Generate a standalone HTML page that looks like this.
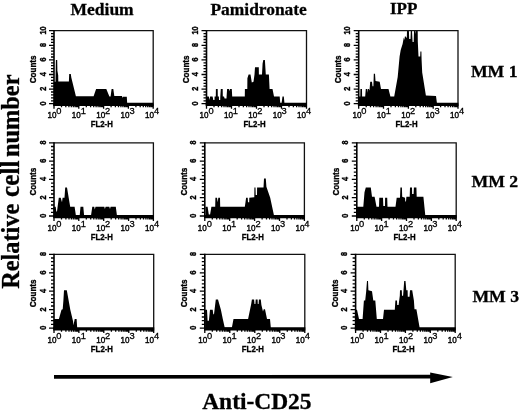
<!DOCTYPE html>
<html><head><meta charset="utf-8"><title>Figure</title>
<style>html,body{margin:0;padding:0;background:#fff}svg{display:block;filter:blur(0.3px)}text{fill:#000}.s{font-family:"Liberation Serif",serif;font-weight:bold;stroke:#000;stroke-width:0.3px}.a{font-family:"Liberation Sans",sans-serif}.b{font-family:"Liberation Sans",sans-serif;font-weight:bold}</style></head><body>
<svg width="520" height="412" viewBox="0 0 520 412">
<rect width="520" height="412" fill="#fff"/>
<text class="s" x="70.5" y="15" font-size="17.5">Medium</text>
<text class="s" x="210.5" y="15" font-size="17.4">Pamidronate</text>
<text class="s" x="390" y="13.8" font-size="17">IPP</text>
<text class="s" x="470.9" y="77" font-size="17.7">MM 1</text>
<text class="s" x="471.5" y="186.5" font-size="17.7">MM 2</text>
<text class="s" x="472.4" y="302" font-size="17.7">MM 3</text>
<text class="s" transform="translate(18.6 288.8) rotate(-90) scale(1 1.05)" font-size="24.3">Relative <tspan x="91.9" font-size="25.3">cell</tspan> <tspan x="131.9">number</tspan></text>
<text class="s" x="202.2" y="408.7" font-size="23.45">Anti-CD25</text>
<path d="M54 376.9 L431 376.6" stroke="#000" stroke-width="3.6" fill="none"/>
<path d="M430.2 372.4 L452.8 376.9 L430.2 383.2 Z" fill="#000"/>
<g>
<path d="M54.0 104.2 L54.0 81.8 L55.5 81.8 L55.7 70.1 L55.9 59.9 L57.2 59.9 L57.4 70.8 L58.2 75.2 L58.3 81.4 L68.9 81.4 L69.2 74.1 L70.8 74.1 L71.3 77.4 L75.9 96.2 L93.6 96.2 L96.1 89.1 L106.3 89.1 L109.4 96.4 L110.6 96.4 L111.6 89.1 L113.3 89.1 L114.3 96.0 L122.0 96.0 L122.3 97.9 L122.8 96.8 L126.8 96.8 L127.2 103.7 L127.2 104.2 Z" fill="#000"/>
<path d="M54.0 30.7 H153.2 V103.7" stroke="#111" stroke-width="1.3" fill="none"/>
<path d="M54.0 30.2 V104.7" stroke="#000" stroke-width="1.6" fill="none"/>
<path d="M53.2 104.4 H153.7" stroke="#000" stroke-width="3.2" fill="none"/>
<path d="M49.0 103.7H54.0 M51.0 100.8H54.0 M51.0 97.9H54.0 M51.0 94.9H54.0 M51.0 92.0H54.0 M49.0 89.1H54.0 M51.0 86.2H54.0 M51.0 83.3H54.0 M51.0 80.3H54.0 M51.0 77.4H54.0 M49.0 74.5H54.0 M51.0 71.6H54.0 M51.0 68.7H54.0 M51.0 65.7H54.0 M51.0 62.8H54.0 M49.0 59.9H54.0 M51.0 57.0H54.0 M51.0 54.1H54.0 M51.0 51.1H54.0 M51.0 48.2H54.0 M49.0 45.3H54.0 M51.0 42.4H54.0 M51.0 39.5H54.0 M51.0 36.5H54.0 M51.0 33.6H54.0 M49.0 30.7H54.0" stroke="#000" stroke-width="1.3" fill="none"/>
<path d="M54.0 103.7v5.0 M61.5 103.7v3.6 M65.8 103.7v3.6 M68.9 103.7v3.6 M71.3 103.7v3.6 M73.3 103.7v3.6 M75.0 103.7v3.6 M76.4 103.7v3.6 M77.7 103.7v3.6 M78.8 103.7v5.0 M86.3 103.7v3.6 M90.6 103.7v3.6 M93.7 103.7v3.6 M96.1 103.7v3.6 M98.1 103.7v3.6 M99.8 103.7v3.6 M101.2 103.7v3.6 M102.5 103.7v3.6 M103.6 103.7v5.0 M111.1 103.7v3.6 M115.4 103.7v3.6 M118.5 103.7v3.6 M120.9 103.7v3.6 M122.9 103.7v3.6 M124.6 103.7v3.6 M126.0 103.7v3.6 M127.3 103.7v3.6 M128.4 103.7v5.0 M135.9 103.7v3.6 M140.2 103.7v3.6 M143.3 103.7v3.6 M145.7 103.7v3.6 M147.7 103.7v3.6 M149.4 103.7v3.6 M150.8 103.7v3.6 M152.1 103.7v3.6 M153.2 103.7v5.0" stroke="#000" stroke-width="1.3" fill="none"/>
<text class="b" transform="translate(45.6 103.4) rotate(-90) scale(0.78 1)" text-anchor="middle" font-size="9.3" stroke="#000" stroke-width="0.4">0</text>
<text class="b" transform="translate(45.6 88.8) rotate(-90) scale(0.78 1)" text-anchor="middle" font-size="9.3" stroke="#000" stroke-width="0.4">2</text>
<text class="b" transform="translate(45.6 74.2) rotate(-90) scale(0.78 1)" text-anchor="middle" font-size="9.3" stroke="#000" stroke-width="0.4">4</text>
<text class="b" transform="translate(45.6 59.6) rotate(-90) scale(0.78 1)" text-anchor="middle" font-size="9.3" stroke="#000" stroke-width="0.4">6</text>
<text class="b" transform="translate(45.6 45.0) rotate(-90) scale(0.78 1)" text-anchor="middle" font-size="9.3" stroke="#000" stroke-width="0.4">8</text>
<text class="b" transform="translate(45.6 30.4) rotate(-90) scale(0.78 1)" text-anchor="middle" font-size="9.3" stroke="#000" stroke-width="0.4">10</text>
<text class="b" transform="translate(36.3 69.4) rotate(-90) scale(0.84 1)" text-anchor="middle" font-size="9.6" stroke="#000" stroke-width="0.35">Counts</text>
<text class="a" transform="translate(47.4 118.3) scale(0.9 1)" font-size="9" stroke="#000" stroke-width="0.4">10</text>
<text class="a" transform="translate(56.3 114.2)" font-size="9.3" stroke="#000" stroke-width="0.3">0</text>
<text class="a" transform="translate(71.8 118.3) scale(0.9 1)" font-size="9" stroke="#000" stroke-width="0.4">10</text>
<text class="a" transform="translate(80.7 114.2)" font-size="9.3" stroke="#000" stroke-width="0.3">1</text>
<text class="a" transform="translate(96.2 118.3) scale(0.9 1)" font-size="9" stroke="#000" stroke-width="0.4">10</text>
<text class="a" transform="translate(105.1 114.2)" font-size="9.3" stroke="#000" stroke-width="0.3">2</text>
<text class="a" transform="translate(120.6 118.3) scale(0.9 1)" font-size="9" stroke="#000" stroke-width="0.4">10</text>
<text class="a" transform="translate(129.5 114.2)" font-size="9.3" stroke="#000" stroke-width="0.3">3</text>
<text class="a" transform="translate(145.0 118.3) scale(0.9 1)" font-size="9" stroke="#000" stroke-width="0.4">10</text>
<text class="a" transform="translate(153.9 114.2)" font-size="9.3" stroke="#000" stroke-width="0.3">4</text>
<text class="b" transform="translate(101.7 127.2) scale(0.93 1)" text-anchor="middle" font-size="8.4" stroke="#000" stroke-width="0.3">FL2-H</text>
</g>
<g>
<path d="M206.3 104.2 L206.3 96.4 L208.8 96.4 L209.5 100.0 L210.1 96.4 L212.6 96.4 L213.3 100.0 L214.5 100.0 L214.6 96.4 L215.8 96.4 L215.9 89.1 L217.7 89.1 L217.8 96.4 L218.9 96.4 L219.0 100.0 L220.2 100.0 L220.3 96.4 L220.8 89.1 L222.7 89.1 L222.8 96.4 L224.0 96.4 L224.6 98.6 L226.5 98.6 L226.6 96.4 L227.1 89.1 L229.0 89.1 L229.5 91.3 L230.0 89.1 L231.8 89.1 L232.2 96.4 L244.8 96.4 L244.9 89.1 L247.3 89.1 L247.4 78.2 L248.6 74.5 L250.5 74.5 L251.8 82.5 L253.5 81.8 L254.5 74.5 L255.0 67.2 L258.8 67.2 L258.9 74.5 L262.0 74.5 L262.6 63.6 L263.3 59.9 L264.9 59.9 L265.8 74.5 L268.9 74.5 L269.6 89.1 L272.5 89.1 L274.0 96.4 L279.7 96.4 L280.3 103.7 L281.5 103.7 L282.5 96.4 L283.8 96.4 L284.5 103.7 L284.5 104.2 Z" fill="#000"/>
<path d="M206.5 30.7 H306.5 V103.7" stroke="#111" stroke-width="1.3" fill="none"/>
<path d="M206.5 30.2 V104.7" stroke="#000" stroke-width="1.6" fill="none"/>
<path d="M205.7 104.4 H307.0" stroke="#000" stroke-width="3.2" fill="none"/>
<path d="M201.5 103.7H206.5 M203.5 100.8H206.5 M203.5 97.9H206.5 M203.5 94.9H206.5 M203.5 92.0H206.5 M201.5 89.1H206.5 M203.5 86.2H206.5 M203.5 83.3H206.5 M203.5 80.3H206.5 M203.5 77.4H206.5 M201.5 74.5H206.5 M203.5 71.6H206.5 M203.5 68.7H206.5 M203.5 65.7H206.5 M203.5 62.8H206.5 M201.5 59.9H206.5 M203.5 57.0H206.5 M203.5 54.1H206.5 M203.5 51.1H206.5 M203.5 48.2H206.5 M201.5 45.3H206.5 M203.5 42.4H206.5 M203.5 39.5H206.5 M203.5 36.5H206.5 M203.5 33.6H206.5 M201.5 30.7H206.5" stroke="#000" stroke-width="1.3" fill="none"/>
<path d="M206.5 103.7v5.0 M214.0 103.7v3.6 M218.4 103.7v3.6 M221.6 103.7v3.6 M224.0 103.7v3.6 M226.0 103.7v3.6 M227.6 103.7v3.6 M229.1 103.7v3.6 M230.4 103.7v3.6 M231.5 103.7v5.0 M239.0 103.7v3.6 M243.4 103.7v3.6 M246.6 103.7v3.6 M249.0 103.7v3.6 M251.0 103.7v3.6 M252.6 103.7v3.6 M254.1 103.7v3.6 M255.4 103.7v3.6 M256.5 103.7v5.0 M264.0 103.7v3.6 M268.4 103.7v3.6 M271.6 103.7v3.6 M274.0 103.7v3.6 M276.0 103.7v3.6 M277.6 103.7v3.6 M279.1 103.7v3.6 M280.4 103.7v3.6 M281.5 103.7v5.0 M289.0 103.7v3.6 M293.4 103.7v3.6 M296.6 103.7v3.6 M299.0 103.7v3.6 M301.0 103.7v3.6 M302.6 103.7v3.6 M304.1 103.7v3.6 M305.4 103.7v3.6 M306.5 103.7v5.0" stroke="#000" stroke-width="1.3" fill="none"/>
<text class="b" transform="translate(198.1 103.4) rotate(-90) scale(0.78 1)" text-anchor="middle" font-size="9.3" stroke="#000" stroke-width="0.4">0</text>
<text class="b" transform="translate(198.1 88.8) rotate(-90) scale(0.78 1)" text-anchor="middle" font-size="9.3" stroke="#000" stroke-width="0.4">2</text>
<text class="b" transform="translate(198.1 74.2) rotate(-90) scale(0.78 1)" text-anchor="middle" font-size="9.3" stroke="#000" stroke-width="0.4">4</text>
<text class="b" transform="translate(198.1 59.6) rotate(-90) scale(0.78 1)" text-anchor="middle" font-size="9.3" stroke="#000" stroke-width="0.4">6</text>
<text class="b" transform="translate(198.1 45.0) rotate(-90) scale(0.78 1)" text-anchor="middle" font-size="9.3" stroke="#000" stroke-width="0.4">8</text>
<text class="b" transform="translate(198.1 30.4) rotate(-90) scale(0.78 1)" text-anchor="middle" font-size="9.3" stroke="#000" stroke-width="0.4">10</text>
<text class="b" transform="translate(188.8 69.4) rotate(-90) scale(0.84 1)" text-anchor="middle" font-size="9.6" stroke="#000" stroke-width="0.35">Counts</text>
<text class="a" transform="translate(199.5 118.3) scale(0.9 1)" font-size="9" stroke="#000" stroke-width="0.4">10</text>
<text class="a" transform="translate(208.4 114.2)" font-size="9.3" stroke="#000" stroke-width="0.3">0</text>
<text class="a" transform="translate(223.9 118.3) scale(0.9 1)" font-size="9" stroke="#000" stroke-width="0.4">10</text>
<text class="a" transform="translate(232.8 114.2)" font-size="9.3" stroke="#000" stroke-width="0.3">1</text>
<text class="a" transform="translate(248.3 118.3) scale(0.9 1)" font-size="9" stroke="#000" stroke-width="0.4">10</text>
<text class="a" transform="translate(257.2 114.2)" font-size="9.3" stroke="#000" stroke-width="0.3">2</text>
<text class="a" transform="translate(272.7 118.3) scale(0.9 1)" font-size="9" stroke="#000" stroke-width="0.4">10</text>
<text class="a" transform="translate(281.6 114.2)" font-size="9.3" stroke="#000" stroke-width="0.3">3</text>
<text class="a" transform="translate(297.1 118.3) scale(0.9 1)" font-size="9" stroke="#000" stroke-width="0.4">10</text>
<text class="a" transform="translate(306.0 114.2)" font-size="9.3" stroke="#000" stroke-width="0.3">4</text>
<text class="b" transform="translate(254.6 127.2) scale(0.93 1)" text-anchor="middle" font-size="8.4" stroke="#000" stroke-width="0.3">FL2-H</text>
</g>
<g>
<path d="M358.8 104.2 L358.8 96.4 L360.3 96.4 L360.4 89.1 L362.0 89.1 L362.1 96.4 L365.2 96.4 L365.8 89.1 L367.0 89.1 L367.2 92.8 L367.7 89.1 L368.9 89.1 L369.5 90.6 L370.2 81.8 L372.0 81.8 L372.5 86.2 L373.4 86.2 L373.8 73.8 L375.0 73.8 L375.5 81.1 L379.7 81.8 L381.0 89.1 L388.5 89.1 L390.4 96.4 L394.2 96.4 L397.7 77.0 L399.6 56.6 L400.7 50.0 L402.6 44.0 L403.8 37.6 L404.3 40.0 L405.0 36.0 L406.8 38.0 L407.0 30.8 L408.9 30.8 L409.2 39.0 L410.5 39.0 L410.8 30.8 L412.0 30.8 L412.6 42.0 L413.7 42.0 L414.0 30.8 L415.2 30.8 L415.5 34.0 L415.8 30.8 L417.7 30.8 L417.8 41.4 L418.5 56.6 L420.2 56.6 L420.4 51.5 L421.4 51.5 L421.6 60.0 L422.2 72.6 L425.9 95.6 L436.0 96.0 L437.0 103.7 L437.0 104.2 Z" fill="#000"/>
<path d="M358.7 30.7 H458.0 V103.7" stroke="#111" stroke-width="1.3" fill="none"/>
<path d="M358.7 30.2 V104.7" stroke="#000" stroke-width="1.6" fill="none"/>
<path d="M357.9 104.4 H458.5" stroke="#000" stroke-width="3.2" fill="none"/>
<path d="M353.7 103.7H358.7 M355.7 100.8H358.7 M355.7 97.9H358.7 M355.7 94.9H358.7 M355.7 92.0H358.7 M353.7 89.1H358.7 M355.7 86.2H358.7 M355.7 83.3H358.7 M355.7 80.3H358.7 M355.7 77.4H358.7 M353.7 74.5H358.7 M355.7 71.6H358.7 M355.7 68.7H358.7 M355.7 65.7H358.7 M355.7 62.8H358.7 M353.7 59.9H358.7 M355.7 57.0H358.7 M355.7 54.1H358.7 M355.7 51.1H358.7 M355.7 48.2H358.7 M353.7 45.3H358.7 M355.7 42.4H358.7 M355.7 39.5H358.7 M355.7 36.5H358.7 M355.7 33.6H358.7 M353.7 30.7H358.7" stroke="#000" stroke-width="1.3" fill="none"/>
<path d="M358.7 103.7v5.0 M366.2 103.7v3.6 M370.5 103.7v3.6 M373.6 103.7v3.6 M376.1 103.7v3.6 M378.0 103.7v3.6 M379.7 103.7v3.6 M381.1 103.7v3.6 M382.4 103.7v3.6 M383.5 103.7v5.0 M391.0 103.7v3.6 M395.4 103.7v3.6 M398.5 103.7v3.6 M400.9 103.7v3.6 M402.8 103.7v3.6 M404.5 103.7v3.6 M405.9 103.7v3.6 M407.2 103.7v3.6 M408.4 103.7v5.0 M415.8 103.7v3.6 M420.2 103.7v3.6 M423.3 103.7v3.6 M425.7 103.7v3.6 M427.7 103.7v3.6 M429.3 103.7v3.6 M430.8 103.7v3.6 M432.0 103.7v3.6 M433.2 103.7v5.0 M440.6 103.7v3.6 M445.0 103.7v3.6 M448.1 103.7v3.6 M450.5 103.7v3.6 M452.5 103.7v3.6 M454.2 103.7v3.6 M455.6 103.7v3.6 M456.9 103.7v3.6 M458.0 103.7v5.0" stroke="#000" stroke-width="1.3" fill="none"/>
<text class="b" transform="translate(350.3 103.4) rotate(-90) scale(0.78 1)" text-anchor="middle" font-size="9.3" stroke="#000" stroke-width="0.4">0</text>
<text class="b" transform="translate(350.3 88.8) rotate(-90) scale(0.78 1)" text-anchor="middle" font-size="9.3" stroke="#000" stroke-width="0.4">2</text>
<text class="b" transform="translate(350.3 74.2) rotate(-90) scale(0.78 1)" text-anchor="middle" font-size="9.3" stroke="#000" stroke-width="0.4">4</text>
<text class="b" transform="translate(350.3 59.6) rotate(-90) scale(0.78 1)" text-anchor="middle" font-size="9.3" stroke="#000" stroke-width="0.4">6</text>
<text class="b" transform="translate(350.3 45.0) rotate(-90) scale(0.78 1)" text-anchor="middle" font-size="9.3" stroke="#000" stroke-width="0.4">8</text>
<text class="b" transform="translate(350.3 30.4) rotate(-90) scale(0.78 1)" text-anchor="middle" font-size="9.3" stroke="#000" stroke-width="0.4">10</text>
<text class="b" transform="translate(341.0 69.4) rotate(-90) scale(0.84 1)" text-anchor="middle" font-size="9.6" stroke="#000" stroke-width="0.35">Counts</text>
<text class="a" transform="translate(352.4 117.7) scale(0.9 1)" font-size="9" stroke="#000" stroke-width="0.4">10</text>
<text class="a" transform="translate(361.3 113.6)" font-size="9.3" stroke="#000" stroke-width="0.3">0</text>
<text class="a" transform="translate(376.8 117.7) scale(0.9 1)" font-size="9" stroke="#000" stroke-width="0.4">10</text>
<text class="a" transform="translate(385.7 113.6)" font-size="9.3" stroke="#000" stroke-width="0.3">1</text>
<text class="a" transform="translate(401.2 117.7) scale(0.9 1)" font-size="9" stroke="#000" stroke-width="0.4">10</text>
<text class="a" transform="translate(410.1 113.6)" font-size="9.3" stroke="#000" stroke-width="0.3">2</text>
<text class="a" transform="translate(425.6 117.7) scale(0.9 1)" font-size="9" stroke="#000" stroke-width="0.4">10</text>
<text class="a" transform="translate(434.5 113.6)" font-size="9.3" stroke="#000" stroke-width="0.3">3</text>
<text class="a" transform="translate(450.0 117.7) scale(0.9 1)" font-size="9" stroke="#000" stroke-width="0.4">10</text>
<text class="a" transform="translate(458.9 113.6)" font-size="9.3" stroke="#000" stroke-width="0.3">4</text>
<text class="b" transform="translate(406.5 127.2) scale(0.93 1)" text-anchor="middle" font-size="8.4" stroke="#000" stroke-width="0.3">FL2-H</text>
</g>
<g>
<path d="M53.5 216.5 L53.5 206.8 L55.7 206.8 L56.3 211.4 L57.0 211.4 L58.8 197.7 L60.7 197.7 L62.0 202.3 L62.6 197.7 L64.5 197.7 L65.2 187.6 L67.0 187.6 L70.2 206.8 L74.6 206.8 L75.9 215.5 L79.7 215.5 L80.5 206.8 L83.3 206.8 L84.1 215.5 L91.0 215.5 L92.3 206.8 L94.2 206.8 L94.8 209.6 L95.5 206.8 L104.3 206.8 L104.9 209.1 L105.6 206.8 L109.3 206.8 L110.0 209.1 L110.6 206.8 L115.8 206.8 L117.0 216.0 L117.0 216.5 Z" fill="#000"/>
<path d="M54.0 142.8 H153.4 V216.0" stroke="#111" stroke-width="1.3" fill="none"/>
<path d="M54.0 142.3 V217.0" stroke="#000" stroke-width="1.6" fill="none"/>
<path d="M53.2 216.7 H153.9" stroke="#000" stroke-width="3.2" fill="none"/>
<path d="M49.0 216.0H54.0 M51.0 212.3H54.0 M51.0 208.7H54.0 M51.0 205.0H54.0 M51.0 201.4H54.0 M49.0 197.7H54.0 M51.0 194.0H54.0 M51.0 190.4H54.0 M51.0 186.7H54.0 M51.0 183.1H54.0 M49.0 179.4H54.0 M51.0 175.7H54.0 M51.0 172.1H54.0 M51.0 168.4H54.0 M51.0 164.8H54.0 M49.0 161.1H54.0 M51.0 157.4H54.0 M51.0 153.8H54.0 M51.0 150.1H54.0 M51.0 146.5H54.0 M49.0 142.8H54.0" stroke="#000" stroke-width="1.3" fill="none"/>
<path d="M54.0 216.0v5.0 M61.5 216.0v3.6 M65.9 216.0v3.6 M69.0 216.0v3.6 M71.4 216.0v3.6 M73.3 216.0v3.6 M75.0 216.0v3.6 M76.4 216.0v3.6 M77.7 216.0v3.6 M78.8 216.0v5.0 M86.3 216.0v3.6 M90.7 216.0v3.6 M93.8 216.0v3.6 M96.2 216.0v3.6 M98.2 216.0v3.6 M99.9 216.0v3.6 M101.3 216.0v3.6 M102.6 216.0v3.6 M103.7 216.0v5.0 M111.2 216.0v3.6 M115.6 216.0v3.6 M118.7 216.0v3.6 M121.1 216.0v3.6 M123.0 216.0v3.6 M124.7 216.0v3.6 M126.1 216.0v3.6 M127.4 216.0v3.6 M128.6 216.0v5.0 M136.0 216.0v3.6 M140.4 216.0v3.6 M143.5 216.0v3.6 M145.9 216.0v3.6 M147.9 216.0v3.6 M149.6 216.0v3.6 M151.0 216.0v3.6 M152.3 216.0v3.6 M153.4 216.0v5.0" stroke="#000" stroke-width="1.3" fill="none"/>
<text class="b" transform="translate(45.6 215.7) rotate(-90) scale(0.78 1)" text-anchor="middle" font-size="9.3" stroke="#000" stroke-width="0.4">0</text>
<text class="b" transform="translate(45.6 197.4) rotate(-90) scale(0.78 1)" text-anchor="middle" font-size="9.3" stroke="#000" stroke-width="0.4">2</text>
<text class="b" transform="translate(45.6 179.1) rotate(-90) scale(0.78 1)" text-anchor="middle" font-size="9.3" stroke="#000" stroke-width="0.4">4</text>
<text class="b" transform="translate(45.6 160.8) rotate(-90) scale(0.78 1)" text-anchor="middle" font-size="9.3" stroke="#000" stroke-width="0.4">6</text>
<text class="b" transform="translate(45.6 142.5) rotate(-90) scale(0.78 1)" text-anchor="middle" font-size="9.3" stroke="#000" stroke-width="0.4">8</text>
<text class="b" transform="translate(36.3 181.6) rotate(-90) scale(0.84 1)" text-anchor="middle" font-size="9.6" stroke="#000" stroke-width="0.35">Counts</text>
<text class="a" transform="translate(47.4 230.6) scale(0.9 1)" font-size="9" stroke="#000" stroke-width="0.4">10</text>
<text class="a" transform="translate(56.3 226.5)" font-size="9.3" stroke="#000" stroke-width="0.3">0</text>
<text class="a" transform="translate(71.8 230.6) scale(0.9 1)" font-size="9" stroke="#000" stroke-width="0.4">10</text>
<text class="a" transform="translate(80.7 226.5)" font-size="9.3" stroke="#000" stroke-width="0.3">1</text>
<text class="a" transform="translate(96.2 230.6) scale(0.9 1)" font-size="9" stroke="#000" stroke-width="0.4">10</text>
<text class="a" transform="translate(105.1 226.5)" font-size="9.3" stroke="#000" stroke-width="0.3">2</text>
<text class="a" transform="translate(120.6 230.6) scale(0.9 1)" font-size="9" stroke="#000" stroke-width="0.4">10</text>
<text class="a" transform="translate(129.5 226.5)" font-size="9.3" stroke="#000" stroke-width="0.3">3</text>
<text class="a" transform="translate(145.0 230.6) scale(0.9 1)" font-size="9" stroke="#000" stroke-width="0.4">10</text>
<text class="a" transform="translate(153.9 226.5)" font-size="9.3" stroke="#000" stroke-width="0.3">4</text>
<text class="b" transform="translate(101.8 239.5) scale(0.93 1)" text-anchor="middle" font-size="8.4" stroke="#000" stroke-width="0.3">FL2-H</text>
</g>
<g>
<path d="M205.5 216.5 L205.5 206.8 L207.6 206.8 L208.8 214.6 L210.1 214.6 L211.4 206.8 L215.2 206.8 L215.4 197.7 L217.0 197.7 L217.7 202.3 L218.3 197.7 L220.0 197.7 L220.2 206.8 L244.8 206.8 L245.5 202.3 L246.1 197.7 L247.7 197.7 L248.0 202.3 L249.2 202.3 L249.3 197.7 L254.3 197.2 L254.4 187.6 L255.5 187.6 L255.7 195.0 L257.0 195.0 L257.1 187.6 L263.5 187.6 L264.0 178.5 L265.8 178.5 L266.4 186.7 L270.2 197.7 L274.0 215.5 L274.0 216.5 Z" fill="#000"/>
<path d="M204.8 142.8 H304.4 V216.0" stroke="#111" stroke-width="1.3" fill="none"/>
<path d="M204.8 142.3 V217.0" stroke="#000" stroke-width="1.6" fill="none"/>
<path d="M204.0 216.7 H304.9" stroke="#000" stroke-width="3.2" fill="none"/>
<path d="M199.8 216.0H204.8 M201.8 212.3H204.8 M201.8 208.7H204.8 M201.8 205.0H204.8 M201.8 201.4H204.8 M199.8 197.7H204.8 M201.8 194.0H204.8 M201.8 190.4H204.8 M201.8 186.7H204.8 M201.8 183.1H204.8 M199.8 179.4H204.8 M201.8 175.7H204.8 M201.8 172.1H204.8 M201.8 168.4H204.8 M201.8 164.8H204.8 M199.8 161.1H204.8 M201.8 157.4H204.8 M201.8 153.8H204.8 M201.8 150.1H204.8 M201.8 146.5H204.8 M199.8 142.8H204.8" stroke="#000" stroke-width="1.3" fill="none"/>
<path d="M204.8 216.0v5.0 M212.3 216.0v3.6 M216.7 216.0v3.6 M219.8 216.0v3.6 M222.2 216.0v3.6 M224.2 216.0v3.6 M225.8 216.0v3.6 M227.3 216.0v3.6 M228.6 216.0v3.6 M229.7 216.0v5.0 M237.2 216.0v3.6 M241.6 216.0v3.6 M244.7 216.0v3.6 M247.1 216.0v3.6 M249.1 216.0v3.6 M250.7 216.0v3.6 M252.2 216.0v3.6 M253.5 216.0v3.6 M254.6 216.0v5.0 M262.1 216.0v3.6 M266.5 216.0v3.6 M269.6 216.0v3.6 M272.0 216.0v3.6 M274.0 216.0v3.6 M275.6 216.0v3.6 M277.1 216.0v3.6 M278.4 216.0v3.6 M279.5 216.0v5.0 M287.0 216.0v3.6 M291.4 216.0v3.6 M294.5 216.0v3.6 M296.9 216.0v3.6 M298.9 216.0v3.6 M300.5 216.0v3.6 M302.0 216.0v3.6 M303.3 216.0v3.6 M304.4 216.0v5.0" stroke="#000" stroke-width="1.3" fill="none"/>
<text class="b" transform="translate(196.4 215.7) rotate(-90) scale(0.78 1)" text-anchor="middle" font-size="9.3" stroke="#000" stroke-width="0.4">0</text>
<text class="b" transform="translate(196.4 197.4) rotate(-90) scale(0.78 1)" text-anchor="middle" font-size="9.3" stroke="#000" stroke-width="0.4">2</text>
<text class="b" transform="translate(196.4 179.1) rotate(-90) scale(0.78 1)" text-anchor="middle" font-size="9.3" stroke="#000" stroke-width="0.4">4</text>
<text class="b" transform="translate(196.4 160.8) rotate(-90) scale(0.78 1)" text-anchor="middle" font-size="9.3" stroke="#000" stroke-width="0.4">6</text>
<text class="b" transform="translate(196.4 142.5) rotate(-90) scale(0.78 1)" text-anchor="middle" font-size="9.3" stroke="#000" stroke-width="0.4">8</text>
<text class="b" transform="translate(187.1 181.6) rotate(-90) scale(0.84 1)" text-anchor="middle" font-size="9.6" stroke="#000" stroke-width="0.35">Counts</text>
<text class="a" transform="translate(197.8 230.6) scale(0.9 1)" font-size="9" stroke="#000" stroke-width="0.4">10</text>
<text class="a" transform="translate(206.7 226.5)" font-size="9.3" stroke="#000" stroke-width="0.3">0</text>
<text class="a" transform="translate(222.2 230.6) scale(0.9 1)" font-size="9" stroke="#000" stroke-width="0.4">10</text>
<text class="a" transform="translate(231.1 226.5)" font-size="9.3" stroke="#000" stroke-width="0.3">1</text>
<text class="a" transform="translate(246.6 230.6) scale(0.9 1)" font-size="9" stroke="#000" stroke-width="0.4">10</text>
<text class="a" transform="translate(255.5 226.5)" font-size="9.3" stroke="#000" stroke-width="0.3">2</text>
<text class="a" transform="translate(271.0 230.6) scale(0.9 1)" font-size="9" stroke="#000" stroke-width="0.4">10</text>
<text class="a" transform="translate(279.9 226.5)" font-size="9.3" stroke="#000" stroke-width="0.3">3</text>
<text class="a" transform="translate(295.4 230.6) scale(0.9 1)" font-size="9" stroke="#000" stroke-width="0.4">10</text>
<text class="a" transform="translate(304.3 226.5)" font-size="9.3" stroke="#000" stroke-width="0.3">4</text>
<text class="b" transform="translate(252.7 239.5) scale(0.93 1)" text-anchor="middle" font-size="8.4" stroke="#000" stroke-width="0.3">FL2-H</text>
</g>
<g>
<path d="M357.0 216.5 L357.0 206.8 L363.3 206.8 L364.5 192.2 L365.8 187.6 L370.8 187.6 L372.0 196.8 L374.6 196.8 L376.5 206.8 L379.0 206.8 L379.3 197.7 L383.0 197.7 L383.3 205.9 L385.0 205.9 L385.1 197.7 L387.2 197.7 L387.5 206.8 L395.5 206.8 L396.7 197.7 L400.0 197.7 L400.4 187.6 L401.9 187.6 L402.2 196.8 L405.0 197.7 L405.3 201.4 L406.0 201.4 L406.4 196.8 L409.7 196.8 L410.0 187.6 L412.0 187.6 L412.1 194.0 L413.6 194.0 L413.9 187.6 L416.4 187.6 L416.7 196.8 L423.4 196.8 L425.3 215.5 L425.3 216.5 Z" fill="#000"/>
<path d="M356.8 142.8 H456.2 V216.0" stroke="#111" stroke-width="1.3" fill="none"/>
<path d="M356.8 142.3 V217.0" stroke="#000" stroke-width="1.6" fill="none"/>
<path d="M356.0 216.7 H456.7" stroke="#000" stroke-width="3.2" fill="none"/>
<path d="M351.8 216.0H356.8 M353.8 212.3H356.8 M353.8 208.7H356.8 M353.8 205.0H356.8 M353.8 201.4H356.8 M351.8 197.7H356.8 M353.8 194.0H356.8 M353.8 190.4H356.8 M353.8 186.7H356.8 M353.8 183.1H356.8 M351.8 179.4H356.8 M353.8 175.7H356.8 M353.8 172.1H356.8 M353.8 168.4H356.8 M353.8 164.8H356.8 M351.8 161.1H356.8 M353.8 157.4H356.8 M353.8 153.8H356.8 M353.8 150.1H356.8 M353.8 146.5H356.8 M351.8 142.8H356.8" stroke="#000" stroke-width="1.3" fill="none"/>
<path d="M356.8 216.0v5.0 M364.3 216.0v3.6 M368.7 216.0v3.6 M371.8 216.0v3.6 M374.2 216.0v3.6 M376.1 216.0v3.6 M377.8 216.0v3.6 M379.2 216.0v3.6 M380.5 216.0v3.6 M381.6 216.0v5.0 M389.1 216.0v3.6 M393.5 216.0v3.6 M396.6 216.0v3.6 M399.0 216.0v3.6 M401.0 216.0v3.6 M402.7 216.0v3.6 M404.1 216.0v3.6 M405.4 216.0v3.6 M406.5 216.0v5.0 M414.0 216.0v3.6 M418.4 216.0v3.6 M421.5 216.0v3.6 M423.9 216.0v3.6 M425.8 216.0v3.6 M427.5 216.0v3.6 M428.9 216.0v3.6 M430.2 216.0v3.6 M431.4 216.0v5.0 M438.8 216.0v3.6 M443.2 216.0v3.6 M446.3 216.0v3.6 M448.7 216.0v3.6 M450.7 216.0v3.6 M452.4 216.0v3.6 M453.8 216.0v3.6 M455.1 216.0v3.6 M456.2 216.0v5.0" stroke="#000" stroke-width="1.3" fill="none"/>
<text class="b" transform="translate(348.4 215.7) rotate(-90) scale(0.78 1)" text-anchor="middle" font-size="9.3" stroke="#000" stroke-width="0.4">0</text>
<text class="b" transform="translate(348.4 197.4) rotate(-90) scale(0.78 1)" text-anchor="middle" font-size="9.3" stroke="#000" stroke-width="0.4">2</text>
<text class="b" transform="translate(348.4 179.1) rotate(-90) scale(0.78 1)" text-anchor="middle" font-size="9.3" stroke="#000" stroke-width="0.4">4</text>
<text class="b" transform="translate(348.4 160.8) rotate(-90) scale(0.78 1)" text-anchor="middle" font-size="9.3" stroke="#000" stroke-width="0.4">6</text>
<text class="b" transform="translate(348.4 142.5) rotate(-90) scale(0.78 1)" text-anchor="middle" font-size="9.3" stroke="#000" stroke-width="0.4">8</text>
<text class="b" transform="translate(339.1 181.6) rotate(-90) scale(0.84 1)" text-anchor="middle" font-size="9.6" stroke="#000" stroke-width="0.35">Counts</text>
<text class="a" transform="translate(350.2 230.6) scale(0.9 1)" font-size="9" stroke="#000" stroke-width="0.4">10</text>
<text class="a" transform="translate(359.1 226.5)" font-size="9.3" stroke="#000" stroke-width="0.3">0</text>
<text class="a" transform="translate(374.6 230.6) scale(0.9 1)" font-size="9" stroke="#000" stroke-width="0.4">10</text>
<text class="a" transform="translate(383.5 226.5)" font-size="9.3" stroke="#000" stroke-width="0.3">1</text>
<text class="a" transform="translate(399.0 230.6) scale(0.9 1)" font-size="9" stroke="#000" stroke-width="0.4">10</text>
<text class="a" transform="translate(407.9 226.5)" font-size="9.3" stroke="#000" stroke-width="0.3">2</text>
<text class="a" transform="translate(423.4 230.6) scale(0.9 1)" font-size="9" stroke="#000" stroke-width="0.4">10</text>
<text class="a" transform="translate(432.3 226.5)" font-size="9.3" stroke="#000" stroke-width="0.3">3</text>
<text class="a" transform="translate(447.8 230.6) scale(0.9 1)" font-size="9" stroke="#000" stroke-width="0.4">10</text>
<text class="a" transform="translate(456.7 226.5)" font-size="9.3" stroke="#000" stroke-width="0.3">4</text>
<text class="b" transform="translate(404.6 239.5) scale(0.93 1)" text-anchor="middle" font-size="8.4" stroke="#000" stroke-width="0.3">FL2-H</text>
</g>
<g>
<path d="M53.9 328.6 L53.9 318.9 L58.9 318.9 L61.5 309.7 L62.7 309.2 L63.4 300.4 L64.0 290.3 L66.8 290.3 L70.3 309.7 L73.1 321.6 L73.5 325.3 L74.7 318.9 L76.6 318.9 L77.2 328.1 L77.2 328.6 Z" fill="#000"/>
<path d="M54.0 254.3 H153.7 V328.1" stroke="#111" stroke-width="1.3" fill="none"/>
<path d="M54.0 253.8 V329.1" stroke="#000" stroke-width="1.6" fill="none"/>
<path d="M53.2 328.8 H154.2" stroke="#000" stroke-width="3.2" fill="none"/>
<path d="M49.0 328.1H54.0 M51.0 324.4H54.0 M51.0 320.7H54.0 M51.0 317.0H54.0 M51.0 313.3H54.0 M49.0 309.7H54.0 M51.0 306.0H54.0 M51.0 302.3H54.0 M51.0 298.6H54.0 M51.0 294.9H54.0 M49.0 291.2H54.0 M51.0 287.5H54.0 M51.0 283.8H54.0 M51.0 280.1H54.0 M51.0 276.4H54.0 M49.0 272.8H54.0 M51.0 269.1H54.0 M51.0 265.4H54.0 M51.0 261.7H54.0 M51.0 258.0H54.0 M49.0 254.3H54.0" stroke="#000" stroke-width="1.3" fill="none"/>
<path d="M54.0 328.1v5.0 M61.5 328.1v3.6 M65.9 328.1v3.6 M69.0 328.1v3.6 M71.4 328.1v3.6 M73.4 328.1v3.6 M75.1 328.1v3.6 M76.5 328.1v3.6 M77.8 328.1v3.6 M78.9 328.1v5.0 M86.4 328.1v3.6 M90.8 328.1v3.6 M93.9 328.1v3.6 M96.3 328.1v3.6 M98.3 328.1v3.6 M100.0 328.1v3.6 M101.4 328.1v3.6 M102.7 328.1v3.6 M103.8 328.1v5.0 M111.4 328.1v3.6 M115.7 328.1v3.6 M118.9 328.1v3.6 M121.3 328.1v3.6 M123.2 328.1v3.6 M124.9 328.1v3.6 M126.4 328.1v3.6 M127.6 328.1v3.6 M128.8 328.1v5.0 M136.3 328.1v3.6 M140.7 328.1v3.6 M143.8 328.1v3.6 M146.2 328.1v3.6 M148.2 328.1v3.6 M149.8 328.1v3.6 M151.3 328.1v3.6 M152.6 328.1v3.6 M153.7 328.1v5.0" stroke="#000" stroke-width="1.3" fill="none"/>
<text class="b" transform="translate(45.6 327.8) rotate(-90) scale(0.78 1)" text-anchor="middle" font-size="9.3" stroke="#000" stroke-width="0.4">0</text>
<text class="b" transform="translate(45.6 309.4) rotate(-90) scale(0.78 1)" text-anchor="middle" font-size="9.3" stroke="#000" stroke-width="0.4">2</text>
<text class="b" transform="translate(45.6 290.9) rotate(-90) scale(0.78 1)" text-anchor="middle" font-size="9.3" stroke="#000" stroke-width="0.4">4</text>
<text class="b" transform="translate(45.6 272.4) rotate(-90) scale(0.78 1)" text-anchor="middle" font-size="9.3" stroke="#000" stroke-width="0.4">6</text>
<text class="b" transform="translate(45.6 254.0) rotate(-90) scale(0.78 1)" text-anchor="middle" font-size="9.3" stroke="#000" stroke-width="0.4">8</text>
<text class="b" transform="translate(36.3 293.4) rotate(-90) scale(0.84 1)" text-anchor="middle" font-size="9.6" stroke="#000" stroke-width="0.35">Counts</text>
<text class="a" transform="translate(47.4 342.7) scale(0.9 1)" font-size="9" stroke="#000" stroke-width="0.4">10</text>
<text class="a" transform="translate(56.3 338.6)" font-size="9.3" stroke="#000" stroke-width="0.3">0</text>
<text class="a" transform="translate(71.8 342.7) scale(0.9 1)" font-size="9" stroke="#000" stroke-width="0.4">10</text>
<text class="a" transform="translate(80.7 338.6)" font-size="9.3" stroke="#000" stroke-width="0.3">1</text>
<text class="a" transform="translate(96.2 342.7) scale(0.9 1)" font-size="9" stroke="#000" stroke-width="0.4">10</text>
<text class="a" transform="translate(105.1 338.6)" font-size="9.3" stroke="#000" stroke-width="0.3">2</text>
<text class="a" transform="translate(120.6 342.7) scale(0.9 1)" font-size="9" stroke="#000" stroke-width="0.4">10</text>
<text class="a" transform="translate(129.5 338.6)" font-size="9.3" stroke="#000" stroke-width="0.3">3</text>
<text class="a" transform="translate(145.0 342.7) scale(0.9 1)" font-size="9" stroke="#000" stroke-width="0.4">10</text>
<text class="a" transform="translate(153.9 338.6)" font-size="9.3" stroke="#000" stroke-width="0.3">4</text>
<text class="b" transform="translate(101.9 351.6) scale(0.93 1)" text-anchor="middle" font-size="8.4" stroke="#000" stroke-width="0.3">FL2-H</text>
</g>
<g>
<path d="M205.1 328.6 L205.1 309.7 L207.0 309.7 L207.6 320.7 L208.9 320.7 L210.0 309.7 L212.7 309.7 L213.3 314.3 L214.0 314.3 L215.8 299.5 L218.0 299.5 L220.9 309.7 L222.8 318.9 L224.7 327.6 L231.9 327.6 L233.5 318.9 L248.1 318.9 L251.2 304.1 L251.9 299.5 L254.1 299.5 L254.5 304.1 L255.4 304.1 L255.7 299.5 L257.6 299.5 L257.8 304.1 L258.6 304.1 L258.9 299.5 L260.8 299.5 L261.4 305.0 L263.0 311.5 L263.7 309.2 L265.0 309.2 L267.0 318.9 L270.0 318.9 L270.8 327.6 L270.8 328.6 Z" fill="#000"/>
<path d="M204.8 254.3 H304.8 V328.1" stroke="#111" stroke-width="1.3" fill="none"/>
<path d="M204.8 253.8 V329.1" stroke="#000" stroke-width="1.6" fill="none"/>
<path d="M204.0 328.8 H305.3" stroke="#000" stroke-width="3.2" fill="none"/>
<path d="M199.8 328.1H204.8 M201.8 324.4H204.8 M201.8 320.7H204.8 M201.8 317.0H204.8 M201.8 313.3H204.8 M199.8 309.7H204.8 M201.8 306.0H204.8 M201.8 302.3H204.8 M201.8 298.6H204.8 M201.8 294.9H204.8 M199.8 291.2H204.8 M201.8 287.5H204.8 M201.8 283.8H204.8 M201.8 280.1H204.8 M201.8 276.4H204.8 M199.8 272.8H204.8 M201.8 269.1H204.8 M201.8 265.4H204.8 M201.8 261.7H204.8 M201.8 258.0H204.8 M199.8 254.3H204.8" stroke="#000" stroke-width="1.3" fill="none"/>
<path d="M204.8 328.1v5.0 M212.3 328.1v3.6 M216.7 328.1v3.6 M219.9 328.1v3.6 M222.3 328.1v3.6 M224.3 328.1v3.6 M225.9 328.1v3.6 M227.4 328.1v3.6 M228.7 328.1v3.6 M229.8 328.1v5.0 M237.3 328.1v3.6 M241.7 328.1v3.6 M244.9 328.1v3.6 M247.3 328.1v3.6 M249.3 328.1v3.6 M250.9 328.1v3.6 M252.4 328.1v3.6 M253.7 328.1v3.6 M254.8 328.1v5.0 M262.3 328.1v3.6 M266.7 328.1v3.6 M269.9 328.1v3.6 M272.3 328.1v3.6 M274.3 328.1v3.6 M275.9 328.1v3.6 M277.4 328.1v3.6 M278.7 328.1v3.6 M279.8 328.1v5.0 M287.3 328.1v3.6 M291.7 328.1v3.6 M294.9 328.1v3.6 M297.3 328.1v3.6 M299.3 328.1v3.6 M300.9 328.1v3.6 M302.4 328.1v3.6 M303.7 328.1v3.6 M304.8 328.1v5.0" stroke="#000" stroke-width="1.3" fill="none"/>
<text class="b" transform="translate(196.4 327.8) rotate(-90) scale(0.78 1)" text-anchor="middle" font-size="9.3" stroke="#000" stroke-width="0.4">0</text>
<text class="b" transform="translate(196.4 309.4) rotate(-90) scale(0.78 1)" text-anchor="middle" font-size="9.3" stroke="#000" stroke-width="0.4">2</text>
<text class="b" transform="translate(196.4 290.9) rotate(-90) scale(0.78 1)" text-anchor="middle" font-size="9.3" stroke="#000" stroke-width="0.4">4</text>
<text class="b" transform="translate(196.4 272.4) rotate(-90) scale(0.78 1)" text-anchor="middle" font-size="9.3" stroke="#000" stroke-width="0.4">6</text>
<text class="b" transform="translate(196.4 254.0) rotate(-90) scale(0.78 1)" text-anchor="middle" font-size="9.3" stroke="#000" stroke-width="0.4">8</text>
<text class="b" transform="translate(187.1 293.4) rotate(-90) scale(0.84 1)" text-anchor="middle" font-size="9.6" stroke="#000" stroke-width="0.35">Counts</text>
<text class="a" transform="translate(198.2 342.7) scale(0.9 1)" font-size="9" stroke="#000" stroke-width="0.4">10</text>
<text class="a" transform="translate(207.1 338.6)" font-size="9.3" stroke="#000" stroke-width="0.3">0</text>
<text class="a" transform="translate(222.6 342.7) scale(0.9 1)" font-size="9" stroke="#000" stroke-width="0.4">10</text>
<text class="a" transform="translate(231.5 338.6)" font-size="9.3" stroke="#000" stroke-width="0.3">1</text>
<text class="a" transform="translate(247.0 342.7) scale(0.9 1)" font-size="9" stroke="#000" stroke-width="0.4">10</text>
<text class="a" transform="translate(255.9 338.6)" font-size="9.3" stroke="#000" stroke-width="0.3">2</text>
<text class="a" transform="translate(271.4 342.7) scale(0.9 1)" font-size="9" stroke="#000" stroke-width="0.4">10</text>
<text class="a" transform="translate(280.3 338.6)" font-size="9.3" stroke="#000" stroke-width="0.3">3</text>
<text class="a" transform="translate(295.8 342.7) scale(0.9 1)" font-size="9" stroke="#000" stroke-width="0.4">10</text>
<text class="a" transform="translate(304.7 338.6)" font-size="9.3" stroke="#000" stroke-width="0.3">4</text>
<text class="b" transform="translate(252.9 351.6) scale(0.93 1)" text-anchor="middle" font-size="8.4" stroke="#000" stroke-width="0.3">FL2-H</text>
</g>
<g>
<path d="M355.7 328.6 L355.7 309.7 L357.0 309.7 L359.0 318.9 L362.6 318.9 L363.9 300.4 L365.2 300.4 L366.2 291.2 L367.0 281.1 L368.0 281.1 L368.4 290.3 L372.0 291.2 L373.3 300.4 L375.3 300.4 L376.8 318.9 L383.0 318.9 L384.0 309.7 L394.8 309.7 L395.4 300.4 L397.0 300.4 L397.2 305.0 L398.6 305.0 L399.8 295.8 L400.0 290.3 L401.8 290.3 L402.0 295.8 L403.1 295.8 L404.2 281.1 L405.5 281.1 L406.3 290.3 L407.6 290.3 L407.8 296.7 L409.5 296.7 L410.0 290.3 L412.2 290.3 L413.9 300.4 L414.5 309.2 L416.4 309.2 L419.6 327.6 L419.6 328.6 Z" fill="#000"/>
<path d="M355.6 254.3 H455.2 V328.1" stroke="#111" stroke-width="1.3" fill="none"/>
<path d="M355.6 253.8 V329.1" stroke="#000" stroke-width="1.6" fill="none"/>
<path d="M354.8 328.8 H455.7" stroke="#000" stroke-width="3.2" fill="none"/>
<path d="M350.6 328.1H355.6 M352.6 324.4H355.6 M352.6 320.7H355.6 M352.6 317.0H355.6 M352.6 313.3H355.6 M350.6 309.7H355.6 M352.6 306.0H355.6 M352.6 302.3H355.6 M352.6 298.6H355.6 M352.6 294.9H355.6 M350.6 291.2H355.6 M352.6 287.5H355.6 M352.6 283.8H355.6 M352.6 280.1H355.6 M352.6 276.4H355.6 M350.6 272.8H355.6 M352.6 269.1H355.6 M352.6 265.4H355.6 M352.6 261.7H355.6 M352.6 258.0H355.6 M350.6 254.3H355.6" stroke="#000" stroke-width="1.3" fill="none"/>
<path d="M355.6 328.1v5.0 M363.1 328.1v3.6 M367.5 328.1v3.6 M370.6 328.1v3.6 M373.0 328.1v3.6 M375.0 328.1v3.6 M376.6 328.1v3.6 M378.1 328.1v3.6 M379.4 328.1v3.6 M380.5 328.1v5.0 M388.0 328.1v3.6 M392.4 328.1v3.6 M395.5 328.1v3.6 M397.9 328.1v3.6 M399.9 328.1v3.6 M401.5 328.1v3.6 M403.0 328.1v3.6 M404.3 328.1v3.6 M405.4 328.1v5.0 M412.9 328.1v3.6 M417.3 328.1v3.6 M420.4 328.1v3.6 M422.8 328.1v3.6 M424.8 328.1v3.6 M426.4 328.1v3.6 M427.9 328.1v3.6 M429.2 328.1v3.6 M430.3 328.1v5.0 M437.8 328.1v3.6 M442.2 328.1v3.6 M445.3 328.1v3.6 M447.7 328.1v3.6 M449.7 328.1v3.6 M451.3 328.1v3.6 M452.8 328.1v3.6 M454.1 328.1v3.6 M455.2 328.1v5.0" stroke="#000" stroke-width="1.3" fill="none"/>
<text class="b" transform="translate(347.2 327.8) rotate(-90) scale(0.78 1)" text-anchor="middle" font-size="9.3" stroke="#000" stroke-width="0.4">0</text>
<text class="b" transform="translate(347.2 309.4) rotate(-90) scale(0.78 1)" text-anchor="middle" font-size="9.3" stroke="#000" stroke-width="0.4">2</text>
<text class="b" transform="translate(347.2 290.9) rotate(-90) scale(0.78 1)" text-anchor="middle" font-size="9.3" stroke="#000" stroke-width="0.4">4</text>
<text class="b" transform="translate(347.2 272.4) rotate(-90) scale(0.78 1)" text-anchor="middle" font-size="9.3" stroke="#000" stroke-width="0.4">6</text>
<text class="b" transform="translate(347.2 254.0) rotate(-90) scale(0.78 1)" text-anchor="middle" font-size="9.3" stroke="#000" stroke-width="0.4">8</text>
<text class="b" transform="translate(337.9 293.4) rotate(-90) scale(0.84 1)" text-anchor="middle" font-size="9.6" stroke="#000" stroke-width="0.35">Counts</text>
<text class="a" transform="translate(350.2 343.0) scale(0.9 1)" font-size="9" stroke="#000" stroke-width="0.4">10</text>
<text class="a" transform="translate(359.1 338.9)" font-size="9.3" stroke="#000" stroke-width="0.3">0</text>
<text class="a" transform="translate(374.6 343.0) scale(0.9 1)" font-size="9" stroke="#000" stroke-width="0.4">10</text>
<text class="a" transform="translate(383.5 338.9)" font-size="9.3" stroke="#000" stroke-width="0.3">1</text>
<text class="a" transform="translate(399.0 343.0) scale(0.9 1)" font-size="9" stroke="#000" stroke-width="0.4">10</text>
<text class="a" transform="translate(407.9 338.9)" font-size="9.3" stroke="#000" stroke-width="0.3">2</text>
<text class="a" transform="translate(423.4 343.0) scale(0.9 1)" font-size="9" stroke="#000" stroke-width="0.4">10</text>
<text class="a" transform="translate(432.3 338.9)" font-size="9.3" stroke="#000" stroke-width="0.3">3</text>
<text class="a" transform="translate(447.8 343.0) scale(0.9 1)" font-size="9" stroke="#000" stroke-width="0.4">10</text>
<text class="a" transform="translate(456.7 338.9)" font-size="9.3" stroke="#000" stroke-width="0.3">4</text>
<text class="b" transform="translate(403.5 351.6) scale(0.93 1)" text-anchor="middle" font-size="8.4" stroke="#000" stroke-width="0.3">FL2-H</text>
</g>
</svg></body></html>
